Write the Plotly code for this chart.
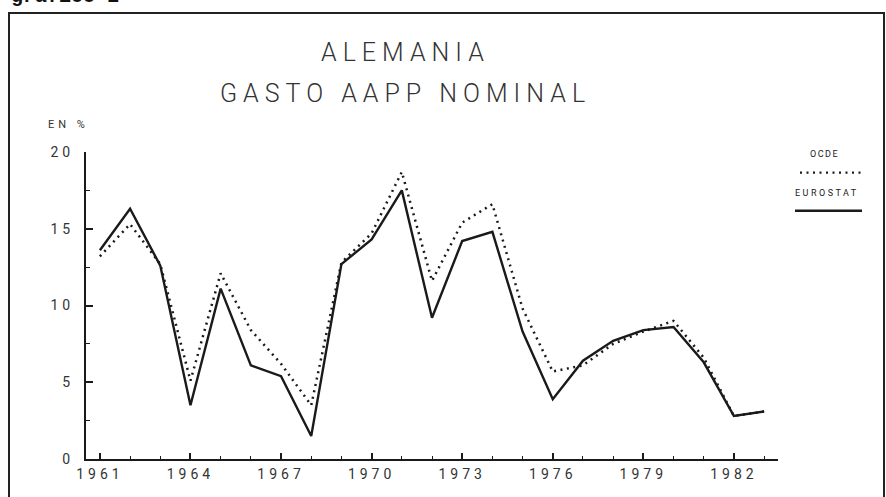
import plotly.graph_objects as go

years = list(range(1961, 1984))
eurostat = [13.6, 16.3, 12.6, 3.5, 11.1, 6.1, 5.4, 1.5, 12.7, 14.3, 17.5, 9.2,
            14.2, 14.8, 8.3, 3.9, 6.4, 7.7, 8.4, 8.6, 6.3, 2.8, 3.1]
ocde = [13.2, 15.3, 12.7, 5.1, 12.1, 8.4, 6.2, 3.5, 12.8, 14.7, 18.7, 11.6,
        15.4, 16.6, 9.8, 5.7, 6.1, 7.5, 8.3, 9.0, 6.6, 2.8, 3.1]
x_tick_years = [1961, 1964, 1967, 1970, 1973, 1976, 1979, 1982]
y_tick_vals = [0, 5, 10, 15, 20]

title_1 = "ALEMANIA"
title_2 = "GASTO AAPP NOMINAL"
y_unit = "EN %"
corner_label = "gráfico 1"
legend_names = ["OCDE", "EUROSTAT"]

INK = "#1a1a1a"
FONT = "Roboto"

# plot area pixel geometry (for paper-coordinate conversion of decorations)
L, R, T, B = 86, 108, 152, 38
W, H = 886, 497
PW, PH = W - L - R, H - T - B


def px(x):
    return (x - L) / PW


def py(y):
    return (H - B - y) / PH


fig = go.Figure()
fig.add_trace(go.Scatter(x=years, y=ocde, mode="lines", name=legend_names[0],
                         line=dict(color=INK, width=2.5, dash="2px,4.5px")))
fig.add_trace(go.Scatter(x=years, y=eurostat, mode="lines", name=legend_names[1],
                         line=dict(color=INK, width=2.4)))

fig.update_layout(
    width=W, height=H,
    margin=dict(l=L, r=R, t=T, b=B, pad=0),
    paper_bgcolor="white", plot_bgcolor="white",
    showlegend=False,
    font=dict(family=FONT, color="#333", size=14),
)

fig.update_xaxes(
    range=[1960.54, 1983.46], showgrid=False, zeroline=False,
    showline=True, linecolor=INK, linewidth=2,
    tickmode="array", tickvals=x_tick_years, ticktext=[str(v) for v in x_tick_years],
    ticks="inside", ticklen=6, tickwidth=1.5, tickcolor=INK,
    tickfont=dict(family=FONT, size=14, color="#333"),
    ticklabelstandoff=1,
    minor=dict(tickmode="linear", tick0=1961, dtick=1, ticks="inside",
               ticklen=3, tickwidth=1.2, tickcolor=INK, showgrid=False),
)
fig.update_yaxes(
    range=[0, 20], showgrid=False, zeroline=False,
    showline=True, linecolor=INK, linewidth=2,
    tickmode="array", tickvals=y_tick_vals, ticktext=[str(v) for v in y_tick_vals],
    ticks="inside", ticklen=7, tickwidth=1.5, tickcolor=INK,
    tickfont=dict(family=FONT, size=14, color="#333"),
    ticklabelstandoff=7,
    minor=dict(tickmode="linear", tick0=0, dtick=2.5, ticks="inside",
               ticklen=4, tickwidth=1.2, tickcolor=INK, showgrid=False),
)

# outer frame
fig.add_shape(type="rect", xref="paper", yref="paper",
              x0=px(9), x1=px(884), y0=py(520), y1=py(13),
              line=dict(color="#222", width=2), fillcolor="rgba(0,0,0,0)", layer="below")

ann = []
ann.append(dict(text=title_1, x=px(405), y=py(52), font=dict(size=25, color="#333", family=FONT, weight=300)))
ann.append(dict(text=title_2, x=px(405), y=py(94), font=dict(size=25, color="#333", family=FONT, weight=300)))
ann.append(dict(text=y_unit, x=px(68), y=py(125), font=dict(size=11, color="#333", family=FONT)))
ann.append(dict(text=legend_names[0], x=px(824), y=py(154), font=dict(size=9, color="#222", family=FONT)))
ann.append(dict(text=legend_names[1], x=px(827), y=py(193), font=dict(size=9, color="#222", family=FONT)))
for a in ann:
    fig.add_annotation(xref="paper", yref="paper", showarrow=False,
                       xanchor="center", yanchor="middle", **a)
fig.add_annotation(text="<b>" + corner_label + "</b>", xref="paper", yref="paper",
                   x=px(9), y=py(10), xanchor="left", yanchor="bottom", showarrow=False,
                   font=dict(family="Liberation Mono", size=20, color="#111"))

# legend samples
fig.add_shape(type="line", xref="paper", yref="paper", x0=px(800), x1=px(862),
              y0=py(172.7), y1=py(172.7), line=dict(color=INK, width=2.2, dash="2px,4.5px"))
fig.add_shape(type="line", xref="paper", yref="paper", x0=px(795), x1=px(862),
              y0=py(210.7), y1=py(210.7), line=dict(color=INK, width=2.4))

post = """
document.body.style.margin = '0';
var gd = document.getElementById('{plot_id}');
var sp = {'ALEMANIA':'6px','GASTO AAPP NOMINAL':'6px','EN %':'4px','OCDE':'1.5px','EUROSTAT':'2.5px'};
gd.querySelectorAll('.annotation-text').forEach(function(e){
  var t = e.textContent; if (sp[t]) { e.style.letterSpacing = sp[t]; }
});
gd.querySelectorAll('.xtick text, .ytick text').forEach(function(e){ e.style.letterSpacing='4px'; });
"""

fig.write_html("out.html", post_script=post, config={"displayModeBar": False})
